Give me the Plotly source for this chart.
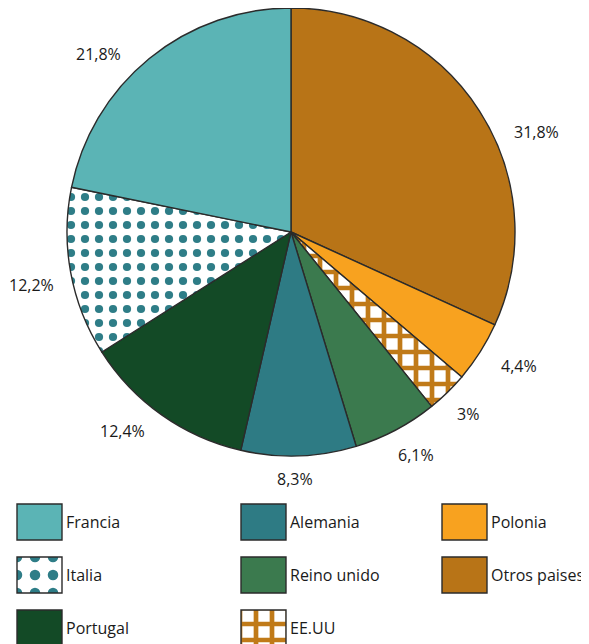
import math
import plotly.graph_objects as go

# ---------------- data ----------------
labels = ["Otros paises", "Polonia", "EE.UU", "Reino unido", "Alemania", "Portugal", "Italia", "Francia"]
values = [31.8, 4.4, 3.0, 6.1, 8.3, 12.4, 12.2, 21.8]
pct_text = ["31,8%", "4,4%", "3%", "6,1%", "8,3%", "12,4%", "12,2%", "21,8%"]
legend_order = ["Francia", "Alemania", "Polonia", "Italia", "Reino unido", "Otros paises", "Portugal", "EE.UU"]

# ---------------- styles ----------------
colors = {
    "Francia": "#5bb4b5", "Alemania": "#2e7b84", "Polonia": "#f8a21f",
    "Italia": "#ffffff", "Reino unido": "#3b7a4e", "Otros paises": "#b87417",
    "Portugal": "#134a26", "EE.UU": "#ffffff",
}
pattern_shape = {"Italia": ".", "EE.UU": "+"}
pattern_fg = {"Italia": "#2e7d87", "EE.UU": "#c07a18"}
pattern_size = {"Italia": 14, "EE.UU": 16}
pattern_solid = {"Italia": 0.27, "EE.UU": 0.5}
# label placement tweaks (degrees), layout only
label_angle_nudge = {"Otros paises": 10.5, "Polonia": -2.0, "Reino unido": -1.5,
                     "Alemania": 1.0, "Portugal": 5.0, "Italia": -1.0, "Francia": -8.0}
label_gap_extra = {"Polonia": 4, "EE.UU": 2}
EDGE = "#2b2b2b"
FONT = "Open Sans"
TXT = "#1a1a1a"

# page body has an 8px margin: lay the figure out in window pixels
OFF = 8
WIN_W, WIN_H = 589, 644
W, H = WIN_W - OFF, WIN_H - OFF
CX, CY, R = 291, 232, 224

fig = go.Figure()

fig.add_trace(go.Pie(
    labels=labels, values=values, sort=False, direction="clockwise", rotation=0,
    textinfo="none", hoverinfo="label+percent", showlegend=False,
    domain=dict(x=[(CX - R - OFF) / W, (CX + R - OFF) / W],
                y=[(WIN_H - (CY + R)) / H, (WIN_H - (CY - R)) / H]),
    marker=dict(
        colors=[colors[l] for l in labels],
        line=dict(color=EDGE, width=1.4),
        pattern=dict(
            shape=[pattern_shape.get(l, "") for l in labels],
            fgcolor=[pattern_fg.get(l, colors[l]) for l in labels],
            bgcolor=["#ffffff" if l in pattern_shape else colors[l] for l in labels],
            size=[pattern_size.get(l, 10) for l in labels],
            solidity=[pattern_solid.get(l, 0.3) for l in labels],
            fillmode="replace",
        ),
    ),
))

# ---------------- percentage labels ----------------
annotations = []
total = sum(values)
cum = 0.0
for lab, v, t in zip(labels, values, pct_text):
    mid = (cum + v / 2) / total
    cum += v
    a = 2 * math.pi * mid + math.radians(label_angle_nudge.get(lab, 0))
    tw = 9.6 * len(t)
    dist = R + 16 + label_gap_extra.get(lab, 0) + abs(math.sin(a)) * tw / 2 + abs(math.cos(a)) * 7
    annotations.append(dict(
        x=CX + dist * math.sin(a), y=CY - dist * math.cos(a), xref="x", yref="y",
        text=t, showarrow=False, xanchor="center", yanchor="middle",
        font=dict(family=FONT, size=16, color=TXT),
    ))

# ---------------- custom legend (3 columns) ----------------
col_x = [17, 241, 442]
row_y = [504, 557, 610]
SW, SH = 45, 36
for i, lab in enumerate(legend_order):
    c, r = i % 3, i // 3
    x0, y0 = col_x[c], row_y[r]
    fig.add_trace(go.Bar(
        x=[x0 + SW / 2], y=[SH], base=[y0], width=[SW],
        marker=dict(
            color=colors[lab],
            line=dict(color=EDGE, width=1.4),
            pattern=dict(
                shape=pattern_shape.get(lab, ""),
                fgcolor=pattern_fg.get(lab, colors[lab]),
                bgcolor="#ffffff" if lab in pattern_shape else colors[lab],
                size=pattern_size.get(lab, 10) + (4 if lab == "Italia" else 0),
                solidity=pattern_solid.get(lab, 0.3),
                fillmode="replace",
            ),
        ),
        hoverinfo="skip", showlegend=False,
    ))
    annotations.append(dict(
        x=x0 + SW + 2, y=y0 + SH / 2, xref="x", yref="y",
        text=lab, showarrow=False, xanchor="left", yanchor="middle",
        font=dict(family=FONT, size=16, color=TXT),
    ))

fig.update_layout(
    width=W, height=H,
    margin=dict(l=0, r=0, t=0, b=0),
    paper_bgcolor="white", plot_bgcolor="white",
    barmode="overlay",
    showlegend=False,
    xaxis=dict(range=[OFF, WIN_W], visible=False, domain=[0, 1], fixedrange=True),
    yaxis=dict(range=[WIN_H, OFF], visible=False, domain=[0, 1], fixedrange=True),
    annotations=annotations,
)

fig.write_html("out.html")
